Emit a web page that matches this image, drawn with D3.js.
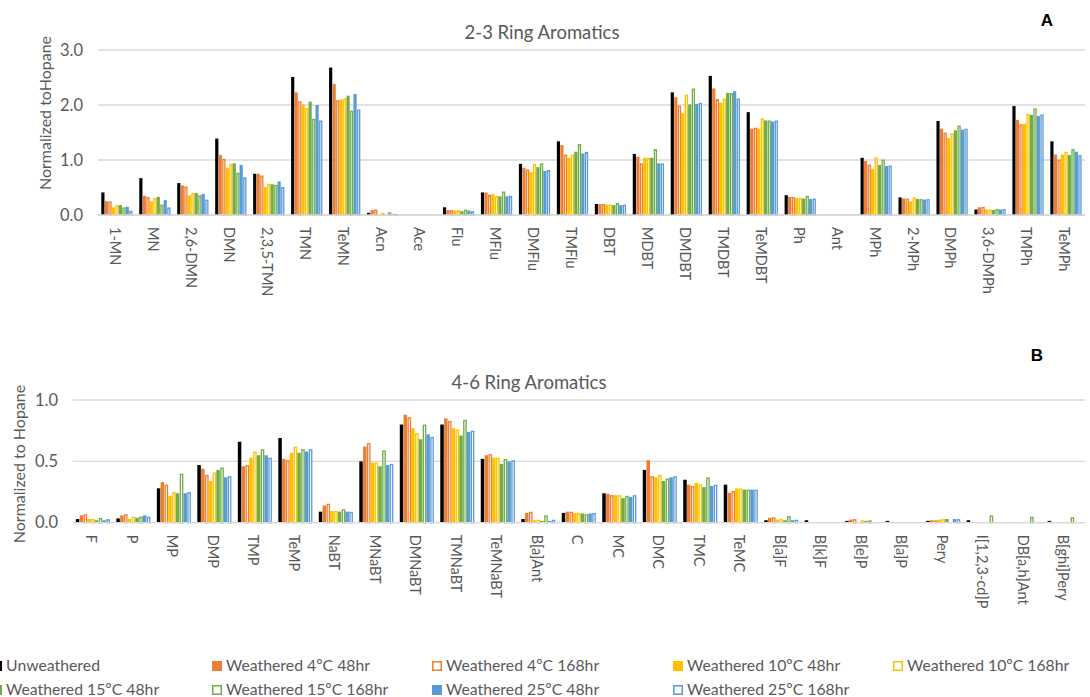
<!DOCTYPE html>
<html><head><meta charset="utf-8">
<script src="https://cdn.jsdelivr.net/npm/d3@7"></script>
<style>
html,body{margin:0;padding:0;background:#fff;}
svg{display:block;font-family:"Lato","Open Sans",sans-serif;}
</style></head>
<body><svg id="c" width="1090" height="697"></svg>
<script>
// ---------- DATA ----------
const topCategories = ["1-MN","MN","2,6-DMN","DMN","2,3,5-TMN","TMN","TeMN","Acn","Ace","Flu","MFlu","DMFlu","TMFlu","DBT","MDBT","DMDBT","TMDBT","TeMDBT","Ph","Ant","MPh","2-MPh","DMPh","3,6-DMPh","TMPh","TeMPh"];
const bottomCategories = ["F","P","MP","DMP","TMP","TeMP","NaBT","MNaBT","DMNaBT","TMNaBT","TeMNaBT","B[a]Ant","C","MC","DMC","TMC","TeMC","B[a]F","B[k]F","B[e]P","B[a]P","Pery","I[1,2,3-cd]P","DB[a,h]Ant","B[ghi]Pery"];
const seriesNames = ["Unweathered","Weathered 4ºC 48hr","Weathered 4ºC 168hr","Weathered 10ºC 48hr","Weathered 10ºC 168hr","Weathered 15ºC 48hr","Weathered 15ºC 168hr","Weathered 25ºC 48hr","Weathered 25ºC 168hr"];
const topTicks = ["0.0","1.0","2.0","3.0"];
const bottomTicks = ["0.0","0.5","1.0"];

// Top chart (2-3 ring) series values
const topUnweathered = [0.41,0.67,0.58,1.39,0.75,2.51,2.68,0.04,0,0.14,0.41,0.93,1.34,0.20,1.11,2.23,2.53,1.87,0.36,0,1.04,0.32,1.71,0.10,1.98,1.34];
const topW4_48  = [0.25,0.35,0.54,1.09,0.75,2.23,2.38,0.09,0,0.09,0.41,0.86,1.27,0.20,1.06,2.14,2.30,1.57,0.33,0,0.98,0.30,1.57,0.14,1.73,1.10];
const topW4_168 = [0.25,0.33,0.52,1.02,0.72,2.07,2.09,0.10,0,0.09,0.37,0.83,1.10,0.20,0.94,1.99,2.11,1.59,0.33,0,0.92,0.30,1.50,0.15,1.65,1.01];
const topW10_48 = [0.14,0.25,0.36,0.86,0.51,2.01,2.10,0.01,0,0.08,0.38,0.78,1.04,0.19,1.04,1.85,2.04,1.57,0.31,0,0.84,0.25,1.40,0.10,1.66,1.10];
const topW10_168= [0.18,0.31,0.40,0.93,0.57,1.95,2.12,0.04,0,0.09,0.35,0.93,1.10,0.19,1.04,2.19,2.12,1.76,0.31,0,1.05,0.32,1.49,0.10,1.84,1.15];
const topW15_48 = [0.18,0.33,0.40,0.94,0.56,2.06,2.17,0.01,0,0.07,0.34,0.87,1.15,0.18,1.04,2.01,2.22,1.72,0.30,0,0.91,0.29,1.54,0.09,1.82,1.09];
const topW15_168= [0.14,0.19,0.36,0.77,0.55,1.75,1.90,0.05,0,0.10,0.43,0.94,1.29,0.22,1.20,2.30,2.22,1.72,0.35,0,1.01,0.29,1.63,0.11,1.94,1.20];
const topW25_48 = [0.15,0.27,0.38,0.91,0.61,2.00,2.20,0.02,0,0.08,0.34,0.80,1.12,0.18,0.94,2.02,2.25,1.70,0.29,0,0.89,0.28,1.55,0.10,1.80,1.15];
const topW25_168= [0.08,0.14,0.28,0.69,0.51,1.72,1.92,0.02,0,0.07,0.35,0.82,1.15,0.19,0.94,2.04,2.12,1.72,0.30,0,0.90,0.29,1.57,0.11,1.83,1.09];

// Bottom chart (4-6 ring) series values
const botUnweathered = [0.03,0.035,0.28,0.47,0.66,0.69,0.09,0.50,0.80,0.80,0.52,0.03,0.08,0.24,0.43,0.35,0.31,0.02,0.02,0.015,0.015,0.015,0.02,0,0.015];
const botW4_48  = [0.06,0.06,0.33,0.44,0.46,0.52,0.14,0.62,0.88,0.85,0.55,0.08,0.09,0.235,0.51,0.31,0.245,0.04,0,0.025,0,0.02,0,0,0];
const botW4_168 = [0.07,0.07,0.31,0.39,0.47,0.51,0.155,0.65,0.86,0.83,0.56,0.09,0.09,0.225,0.38,0.30,0.26,0.045,0,0.03,0,0.02,0,0,0];
const botW10_48 = [0.03,0.03,0.22,0.34,0.53,0.57,0.095,0.49,0.77,0.77,0.53,0.02,0.08,0.225,0.37,0.325,0.28,0.025,0,0,0,0.025,0,0,0];
const botW10_168= [0.03,0.05,0.25,0.41,0.58,0.62,0.095,0.49,0.73,0.76,0.53,0.025,0.08,0.225,0.39,0.315,0.28,0.03,0,0.02,0,0.03,0,0,0];
const botW15_48 = [0.02,0.04,0.24,0.43,0.55,0.57,0.09,0.46,0.68,0.71,0.48,0.015,0.075,0.20,0.34,0.29,0.27,0.02,0,0.015,0,0.03,0,0,0];
const botW15_168= [0.04,0.05,0.40,0.45,0.60,0.60,0.11,0.59,0.80,0.84,0.52,0.06,0.07,0.22,0.36,0.37,0.27,0.055,0,0.02,0,0,0.06,0.05,0.045];
const botW25_48 = [0.02,0.06,0.24,0.37,0.55,0.58,0.09,0.47,0.72,0.74,0.50,0.015,0.075,0.21,0.37,0.30,0.27,0.02,0,0,0,0.03,0,0,0];
const botW25_168= [0.03,0.05,0.25,0.38,0.53,0.60,0.09,0.48,0.70,0.75,0.51,0.025,0.08,0.225,0.38,0.31,0.27,0.025,0,0,0,0.03,0,0,0];

// ---------- STYLE ----------
const seriesColor = ["#000000","#ED7D31","#ED7D31","#FFC000","#FFC000","#70AD47","#70AD47","#5B9BD5","#5B9BD5"];
const seriesHollow = [false,false,true,false,true,false,true,false,true];
const textGray = "#595959", gridGray = "#d9d9d9";

const svg = d3.select("#c");

function drawChart(cfg){
  const g = svg.append("g");
  const x = d3.scaleBand().domain(cfg.categories).range([cfg.left, cfg.right]).padding(0);
  const gap = cfg.gap;
  const xs = d3.scaleBand().domain(d3.range(seriesNames.length)).range([gap/2, x.bandwidth()-gap/2]).padding(0);
  const y = d3.scaleLinear().domain(cfg.domain).range([cfg.zeroY, cfg.topY]);

  // gridlines
  const tickVals = cfg.ticks.map(Number);
  g.append("g").selectAll("line").data(tickVals).join("line")
    .attr("x1", cfg.left).attr("x2", cfg.right)
    .attr("y1", d=>y(d)).attr("y2", d=>y(d))
    .attr("stroke", gridGray).attr("stroke-width", 1.3);

  // y axis labels
  const yAxis = d3.axisLeft(y).tickValues(tickVals).tickFormat((d,i)=>cfg.ticks[i]).tickSize(0).tickPadding(0);
  const ya = g.append("g").attr("transform", `translate(${cfg.yLabelX},0)`).call(yAxis);
  ya.select(".domain").remove();
  ya.selectAll("text").attr("fill", textGray).style("font-size","16.5px").style("font-family","Lato, sans-serif");

  // bars
  const series = cfg.values.map((vals, si) => ({si, vals}));
  const sg = g.append("g").selectAll("g").data(series).join("g");
  sg.selectAll("rect").data(s => s.vals.map((v,ci)=>({v, ci, si:s.si}))).join("rect")
    .attr("x", d => x(cfg.categories[d.ci]) + xs(d.si) + (seriesHollow[d.si] ? 0.75 : 0))
    .attr("width", d => xs.bandwidth() - (seriesHollow[d.si] ? 1.5 : 0.3))
    .attr("y", d => y(d.v) + (seriesHollow[d.si] ? 0.75 : 0))
    .attr("height", d => Math.max(0, y(0) - y(d.v) - (seriesHollow[d.si] ? 0.75 : 0)))
    .attr("fill", d => seriesHollow[d.si] ? "#ffffff" : seriesColor[d.si])
    .attr("stroke", d => seriesHollow[d.si] ? seriesColor[d.si] : "none")
    .attr("stroke-width", 1.3)
    .style("display", d => d.v > 0 ? null : "none");

  // x axis baseline
  g.append("line").attr("x1", cfg.left).attr("x2", cfg.right)
    .attr("y1", y(0)).attr("y2", y(0)).attr("stroke", gridGray).attr("stroke-width", 1.3);

  // x category labels (rotated 90deg)
  const xAxis = d3.axisBottom(x).tickSize(0).tickPadding(0);
  const xa = g.append("g").attr("transform", `translate(0,${y(0)})`).call(xAxis);
  xa.select(".domain").remove();
  xa.selectAll("text")
    .attr("fill", textGray).style("font-size","14.5px").style("font-family","Lato, sans-serif")
    .attr("text-anchor","start").attr("dy", null)
    .attr("transform", `translate(-3,${cfg.labelOffset}) rotate(90)`)
    .attr("dominant-baseline","middle").attr("y",0).attr("x",0);

  // title
  g.append("text").attr("x", cfg.titleX).attr("y", cfg.titleY).attr("text-anchor","middle")
    .attr("fill", textGray).style("font-size","18.5px").text(cfg.title);
  // y axis title
  g.append("text").attr("transform", `translate(${cfg.yTitleX},${cfg.yTitleY}) rotate(-90)`)
    .attr("text-anchor","middle").attr("fill", textGray).style("font-size","16px").text(cfg.yTitle);
  // panel letter
  g.append("text").attr("x", cfg.letterX).attr("y", cfg.letterY).attr("text-anchor","middle")
    .attr("fill","#000").style("font-size","17px").style("font-weight","bold")
    .style("font-family","Liberation Sans, Arial, sans-serif").text(cfg.letter);
}

drawChart({
  categories: topCategories,
  values: [topUnweathered, topW4_48, topW4_168, topW10_48, topW10_168, topW15_48, topW15_168, topW25_48, topW25_168],
  left: 98, right: 1085, gap: 6.6, domain: [0,3], zeroY: 215, topY: 50,
  ticks: topTicks, yLabelX: 83, labelOffset: 12,
  title: "2-3 Ring Aromatics", titleX: 542, titleY: 39,
  yTitle: "Normalized toHopane", yTitleX: 51, yTitleY: 113,
  letter: "A", letterX: 1047, letterY: 26
});

drawChart({
  categories: bottomCategories,
  values: [botUnweathered, botW4_48, botW4_168, botW10_48, botW10_168, botW15_48, botW15_168, botW25_48, botW25_168],
  left: 72.7, right: 1085, gap: 6.3, domain: [0,1], zeroY: 522.7, topY: 400,
  ticks: bottomTicks, yLabelX: 58, labelOffset: 12,
  title: "4-6 Ring Aromatics", titleX: 529, titleY: 389,
  yTitle: "Normalized to Hopane", yTitleX: 25, yTitleY: 464,
  letter: "B", letterX: 1037, letterY: 361
});

// ---------- LEGEND ----------
const legendX = [-8, 212, 432, 673, 893];
const legendRowY = [667, 691];
const legendItems = seriesNames.map((name, i) => ({
  name, i, col: i % 5, row: Math.floor(i / 5)
}));
const lg = svg.append("g").selectAll("g").data(legendItems).join("g")
  .attr("transform", d => `translate(${legendX[d.col]},${legendRowY[d.row]})`);
lg.append("rect")
  .attr("x", d => seriesHollow[d.i] ? 0.75 : 0).attr("y", d => seriesHollow[d.i] ? -5.25 : -6)
  .attr("width", d => seriesHollow[d.i] ? 8.5 : 10).attr("height", d => seriesHollow[d.i] ? 8.5 : 10)
  .attr("fill", d => seriesHollow[d.i] ? "#fff" : seriesColor[d.i])
  .attr("stroke", d => seriesHollow[d.i] ? seriesColor[d.i] : "none").attr("stroke-width", 1.5);
lg.append("text").attr("x", 14).attr("y", 0).attr("dominant-baseline","middle")
  .attr("fill", textGray).style("font-size","15.8px").text(d => d.name);
</script>
</body></html>
